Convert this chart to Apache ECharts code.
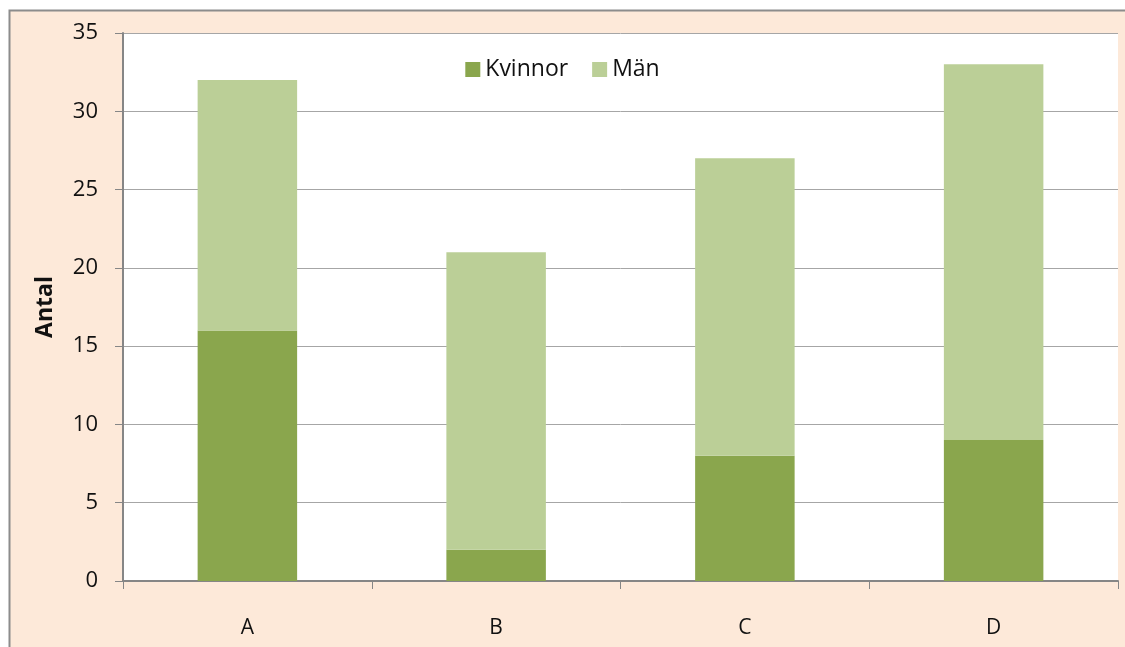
<!DOCTYPE html>
<html>
<head>
<meta charset="utf-8">
<script src="https://cdn.jsdelivr.net/npm/echarts@6/dist/echarts.min.js"></script>
<style>
html, body { margin: 0; padding: 0; background: #fff; }
#chart { width: 1125px; height: 647px; }
</style>
</head>
<body>
<div id="chart"></div>
<script>
let categories = ['A', 'B', 'C', 'D'];
let kvinnor = [16, 2, 8, 9];
let man = [16, 19, 19, 24];
let yTicks = [0, 5, 10, 15, 20, 25, 30, 35];

let chart = echarts.init(document.getElementById('chart'));
let font = 'Open Sans';

let option = {
	backgroundColor: '#ffffff',
	animation: false,
	graphic: [{
		type: 'rect',
		z: -10,
		silent: true,
		shape: { x: 9.5, y: 10.5, width: 1140, height: 660 },
		style: { fill: '#FDE9D9', stroke: '#8c8c8c', lineWidth: 2 }
	}, {
		type: 'rect',
		z: -9,
		silent: true,
		shape: { x: 123, y: 33, width: 995, height: 548 },
		style: { fill: '#ffffff' }
	}],
	legend: {
		top: 53,
		left: 'center',
		itemWidth: 15,
		itemHeight: 15,
		itemGap: 24,
		icon: 'rect',
		textStyle: { fontFamily: font, fontSize: 23, color: '#111' },
		data: ['Kvinnor', 'Män']
	},
	grid: { left: 123, top: 33, right: 7, bottom: 66 },
	xAxis: {
		type: 'category',
		data: categories,
		axisLine: { lineStyle: { color: '#868686', width: 2 } },
		axisTick: { show: true, inside: false, length: 8, lineStyle: { color: '#868686' } },
		axisLabel: { margin: 37, fontFamily: font, fontSize: 21, color: '#111' }
	},
	yAxis: {
		type: 'value',
		min: 0,
		max: 35,
		interval: 5,
		name: 'Antal',
		nameLocation: 'middle',
		nameGap: 66,
		nameTextStyle: { fontFamily: font, fontSize: 23, fontWeight: 'bold', color: '#111' },
		axisLine: { show: true, lineStyle: { color: '#868686', width: 2 } },
		axisTick: { show: true, length: 8, lineStyle: { color: '#868686' } },
		splitLine: { lineStyle: { color: '#a6a6a6', width: 1 } },
		axisLabel: {
			margin: 25, fontFamily: font, fontSize: 22, color: '#111',
			formatter: function (v) { return yTicks.indexOf(v) >= 0 ? String(v) : ''; }
		}
	},
	series: [{
		name: 'Kvinnor',
		type: 'bar',
		stack: 'tot',
		barWidth: '40%',
		data: kvinnor,
		itemStyle: { color: '#8AA64D' }
	}, {
		name: 'Män',
		type: 'bar',
		stack: 'tot',
		barWidth: '40%',
		data: man,
		itemStyle: { color: '#BBCF97' }
	}]
};
chart.setOption(option, true);
</script>
</body>
</html>
